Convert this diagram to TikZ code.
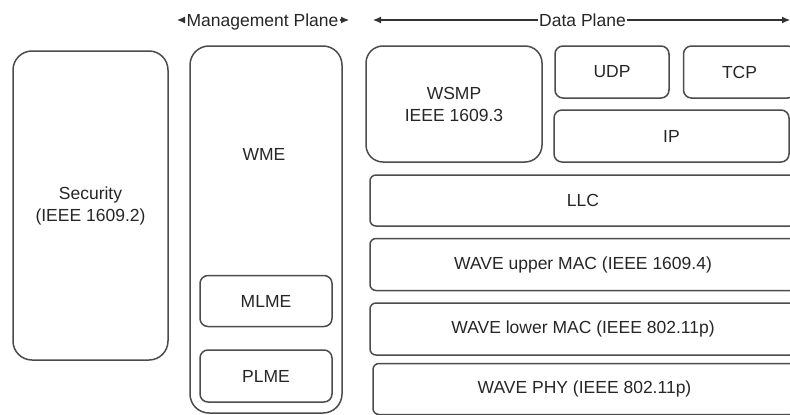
\documentclass[tikz,border=0pt]{standalone}
\usepackage{fontspec}
\setmainfont{Liberation Sans}
\usetikzlibrary{positioning,arrows.meta}

\begin{document}
\begin{tikzpicture}[x=1pt,y=-1pt]
	% Define styles
	\tikzstyle{layer} = [rectangle, draw=black!70, line width=1.5pt, text=black!85, 
	align=center, font=\fontsize{17.5}{22}\selectfont]
	\tikzstyle{bigblock} = [layer, rounded corners=19pt]
	\tikzstyle{smallblock} = [layer, rounded corners=8pt, minimum height=52pt]
	\tikzstyle{wideblock} = [smallblock, rounded corners=6pt, minimum width=426pt] % MAC/PHY rows
	\tikzstyle{planelabel} = [text=black!85, inner sep=1pt, text depth=0pt, font=\fontsize{17.5}{22}\selectfont]
	\tikzstyle{arrow} = [line width=1.1pt, draw=black!80, ->, >={Latex[length=8pt,width=7pt]}]
	
	% Frame of the picture
	\useasboundingbox (0,0) rectangle (790,415);
	\clip (0,0) rectangle (790,415);
	
	% Place nodes
	\node [planelabel] (mplane) at (262.5,20) {Management Plane};
	\node [planelabel] (dplane) at (582.5,20) {Data Plane};
	\coordinate (mpleft) at (177,20);
	\coordinate (mpright) at (349,20);
	\coordinate (dpleft) at (373,20);
	\coordinate (dpright) at (790,20);
	
	\node [bigblock, minimum width=155pt, minimum height=309pt] (security) at (90.5,205.5) {Security\\(IEEE 1609.2)};
	\node [bigblock, minimum width=152pt, minimum height=367pt] (mgmt) at (266,229.5) {};
	\node [layer, draw=none] (wme) at (264,154) {WME};
	\node [smallblock, minimum width=132pt] (plme) at (266,376) {PLME};
	\node [smallblock, minimum width=132pt, minimum height=51pt, above=22pt of plme] (mlme) {MLME};
	
	\node [bigblock, rounded corners=17pt, minimum width=176pt, minimum height=116pt] (wsmp) at (454,104) {WSMP\\IEEE 1609.3};
	\node [smallblock, minimum width=114pt] (udp) at (612,72) {UDP};
	\node [smallblock, minimum width=112pt, right=13pt of udp] (tcp) {TCP};
	\node [smallblock, minimum width=235pt] (ip) at (671.5,136) {IP};
	\node [wideblock, minimum height=51pt] (llc) at (583,200.5) {LLC};
	\node [wideblock, below=11pt of llc] (uppermac) {WAVE upper MAC (IEEE 1609.4)};
	\node [wideblock, below=11pt of uppermac] (lowermac) {WAVE lower MAC (IEEE 802.11p)};
	\node [wideblock, minimum width=423pt, below=7pt of lowermac, xshift=1.5pt, minimum height=51pt] (phy) {WAVE PHY (IEEE 802.11p)};
	
	% Draw arrows
	\draw [arrow] (mplane) -- (mpleft);
	\draw [arrow] (mplane) -- (mpright);
	\draw [arrow] (dplane) -- (dpleft);
	\draw [arrow] (dplane) -- (dpright);
\end{tikzpicture}
\end{document}
